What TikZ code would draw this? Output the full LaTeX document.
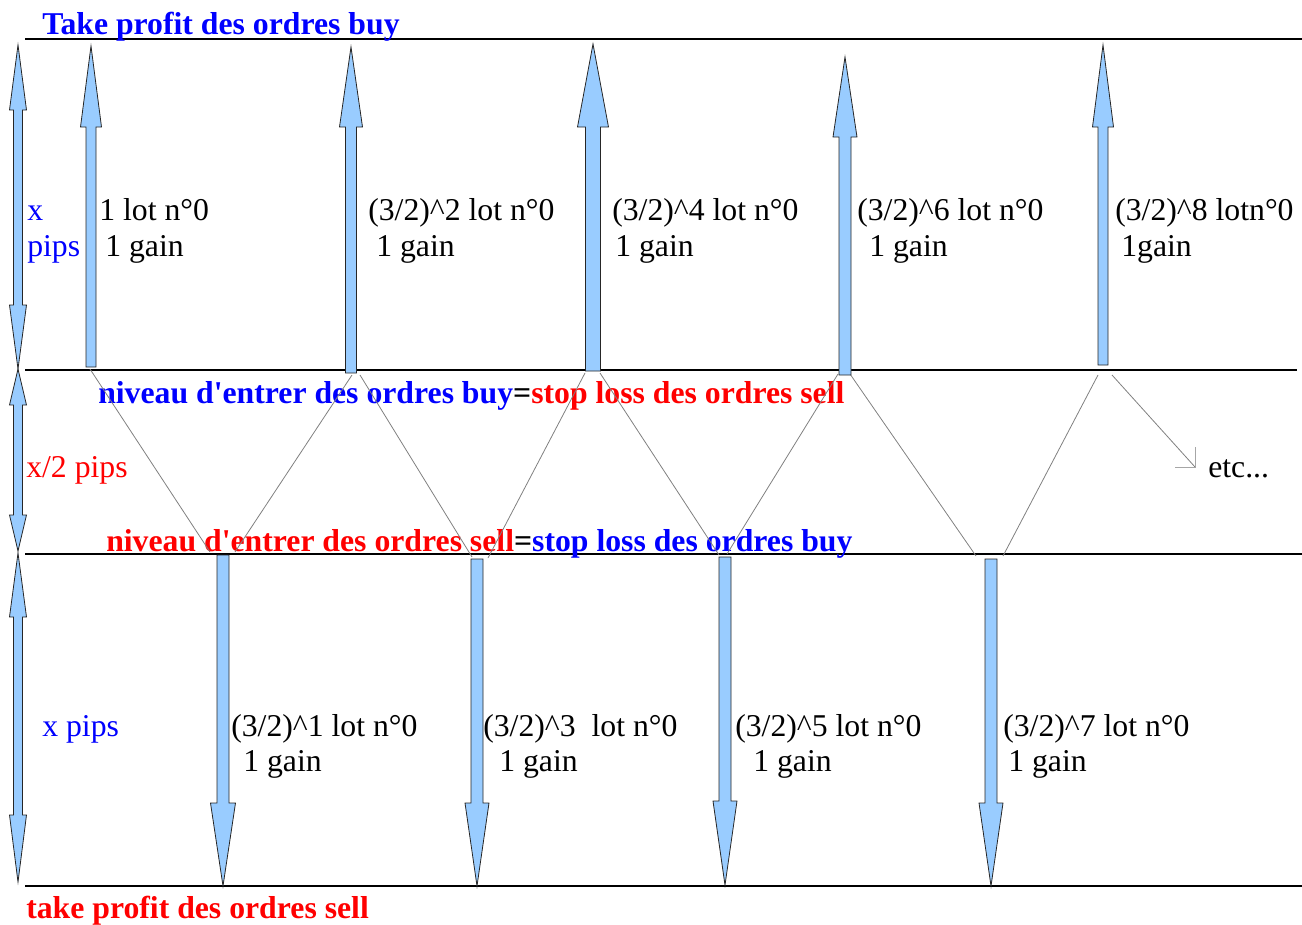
\documentclass[tikz,border=0pt]{standalone}
\usepackage{fontspec}
\setmainfont{Liberation Serif}
\definecolor{arrfill}{HTML}{99CCFF}
\definecolor{zig}{HTML}{808080}
\definecolor{lblue}{HTML}{0000FF}
\definecolor{lred}{HTML}{FF0000}
\tikzset{
  blk/.style={draw=black!85,line width=0.6pt,fill=arrfill,line join=miter},
  lvl/.style={line width=1.4pt,draw=black},
  zz/.style={draw=zig,line width=0.6pt},
  txt/.style={anchor=base west,inner sep=0pt,font=\fontsize{23.8}{27}\selectfont},
  btxt/.style={anchor=base west,inner sep=0pt,font=\fontsize{23.8}{27}\selectfont\bfseries},
}
% single arrow: x, y of tip, y of head base, y of tail end, half shaft, half head
\newcommand\OneArr[6]{\filldraw[blk] ({#1-#5},#4) -- ({#1-#5},#3) -- ({#1-#6},#3) -- (#1,#2) -- ({#1+#6},#3) -- ({#1+#5},#3) -- ({#1+#5},#4) -- cycle;}
% double arrow: x, tip1, head1, head2, tip2, half shaft, half head
\newcommand\DblArr[7]{\filldraw[blk] (#1,#2) -- ({#1+#7},#3) -- ({#1+#6},#3) -- ({#1+#6},#4) -- ({#1+#7},#4) -- (#1,#5) -- ({#1-#7},#4) -- ({#1-#6},#4) -- ({#1-#6},#3) -- ({#1-#7},#3) -- cycle;}
\begin{document}
\begin{tikzpicture}[x=0.75pt,y=-0.75pt]
\useasboundingbox (0,0) rectangle (1302,924);

% level lines
\coordinate (L1a) at (25,39);  \coordinate (L1b) at (1302,39);
\coordinate (L2a) at (25,370); \coordinate (L2b) at (1297,370);
\coordinate (L3a) at (25,554); \coordinate (L3b) at (1302,554);
\coordinate (L4a) at (25,886); \coordinate (L4b) at (1302,886);
\draw[lvl] (L1a) -- (L1b);
\draw[lvl] (L2a) -- (L2b);
\draw[lvl] (L3a) -- (L3b);
\draw[lvl] (L4a) -- (L4b);

% labels
\node[btxt,text=lblue] (tpbuy) at (42,35) {Take profit des ordres buy};
\node[btxt] (lvlbuy) at (98,403) {\color{lblue}niveau d\textquotesingle entrer des ordres buy\color{black}=\color{lred}stop loss des ordres sell};
\node[btxt] (lvlsell) at (106,551) {\color{lred}niveau d\textquotesingle entrer des ordres sell\color{black}=\color{lblue}stop loss des ordres buy};
\node[btxt,text=lred] (tpsell) at (26,918) {take profit des ordres sell};

% zigzag
\coordinate (u1) at (90,369);
\coordinate (d1a) at (210,552); \coordinate (d1b) at (235,552);
\coordinate (u2a) at (352,375); \coordinate (u2b) at (360,375);
\coordinate (d2a) at (472,557); \coordinate (d2b) at (488,558);
\coordinate (u3a) at (585,373); \coordinate (u3b) at (600,373);
\coordinate (d3a) at (719,555); \coordinate (d3b) at (727,554);
\coordinate (u4a) at (838,374); \coordinate (u4b) at (850,374);
\coordinate (d4a) at (976,556); \coordinate (d4b) at (1003,556);
\coordinate (u5a) at (1098,375); \coordinate (u5b) at (1112,375);
\coordinate (etcend) at (1195,467);
\coordinate (etch) at (1175,467); \coordinate (etcv) at (1195,447);
\draw[zz] (u1) -- (d1a);
\draw[zz] (d1b) -- (u2a);
\draw[zz] (u2b) -- (d2a);
\draw[zz] (d2b) -- (u3a);
\draw[zz] (u3b) -- (d3a);
\draw[zz] (d3b) -- (u4a);
\draw[zz] (u4b) -- (d4a);
\draw[zz] (d4b) -- (u5a);
\draw[zz] (u5b) -- (etcend);
\draw[draw=black!35,line width=0.6pt] (etch) -- (etcend) -- (etcv);

% left measure arrows
\DblArr{18}{45}{110}{305}{369}{4.5}{8.5}
\DblArr{18}{369}{405}{515}{551}{4.5}{8.5}
\DblArr{18}{553}{617}{815}{882}{4.5}{8.5}

% buy arrows
\OneArr{91}{46}{127}{367}{5}{10.5}
\OneArr{351}{47}{127}{373}{5.5}{11.5}
\OneArr{593}{44}{127}{371}{7.5}{15.5}
\OneArr{845}{57}{137}{375}{6}{12}
\OneArr{1103}{45}{127}{365}{5}{10.5}

% sell arrows
\OneArr{223}{886}{803}{555}{6}{12.5}
\OneArr{477}{886}{803}{559}{6}{12}
\OneArr{725}{885}{801}{557}{6}{12}
\OneArr{991}{886}{803}{559}{6}{12}

% side labels
\node[txt,text=lblue] (xp1) at (27,220) {x};
\node[txt,text=lblue] (xp2) at (27,256) {pips};
\node[txt,text=lred] (x2p) at (26,477) {x/2 pips};
\node[txt,text=lblue] (xp3) at (42,736) {x pips};
\node[txt] (etc) at (1208,477) {etc...};

% buy labels
\node[txt] (b1a) at (99,220) {1 lot n°0};
\node[txt] (b1b) at (105,256) {1 gain};
\node[txt] (b2a) at (368,220) {(3/2)\^{}2 lot n°0};
\node[txt] (b2b) at (376,256) {1 gain};
\node[txt] (b3a) at (612,220) {(3/2)\^{}4 lot n°0};
\node[txt] (b3b) at (615,256) {1 gain};
\node[txt] (b4a) at (857,220) {(3/2)\^{}6 lot n°0};
\node[txt] (b4b) at (869,256) {1 gain};
\node[txt] (b5a) at (1115,220) {(3/2)\^{}8 lotn°0};
\node[txt] (b5b) at (1121,256) {1gain};

% sell labels
\node[txt] (s1a) at (231,736) {(3/2)\^{}1 lot n°0};
\node[txt] (s1b) at (243,771) {1 gain};
\node[txt] (s2a) at (483,736) {(3/2)\^{}3\ \ lot n°0};
\node[txt] (s2b) at (499,771) {1 gain};
\node[txt] (s3a) at (735,736) {(3/2)\^{}5 lot n°0};
\node[txt] (s3b) at (753,771) {1 gain};
\node[txt] (s4a) at (1003,736) {(3/2)\^{}7 lot n°0};
\node[txt] (s4b) at (1008,771) {1 gain};
\end{tikzpicture}
\end{document}
